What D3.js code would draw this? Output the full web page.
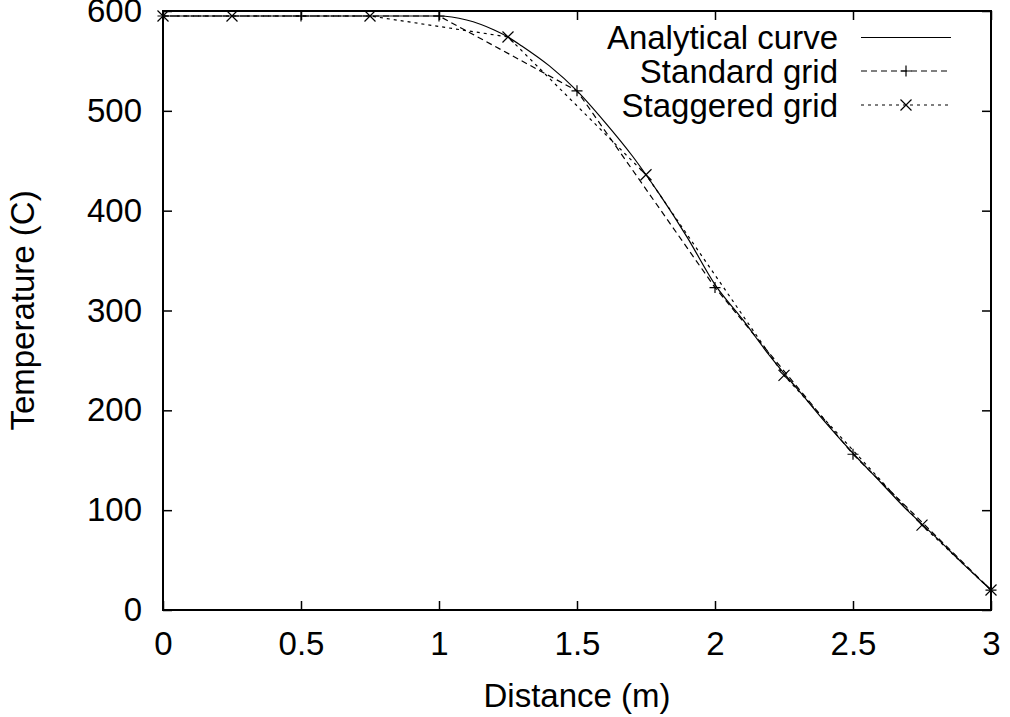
<!DOCTYPE html>
<html>
<head>
<meta charset="utf-8">
<script src="https://cdn.jsdelivr.net/npm/d3@7"></script>
<style>
  html, body { margin: 0; padding: 0; background: #fff; }
  svg { display: block; }
  text { font-family: "Liberation Sans", Arial, Helvetica, sans-serif; fill: #000; }
</style>
</head>
<body>
<svg id="chart" width="1010" height="717"></svg>
<script>
// ---- data ----
const analyticalX = [0, 0.5, 1.0, 1.1, 1.2, 1.25, 1.3, 1.4, 1.5, 1.6, 1.7, 1.75, 1.8, 1.9, 2.0, 2.1, 2.2, 2.25, 2.3, 2.4, 2.5, 2.6, 2.7, 2.75, 2.8, 2.9, 3.0];
const analyticalT = [595, 595, 595, 591, 581, 574, 565, 545, 520, 489, 455, 436, 416, 373, 326, 291, 254, 237, 221, 188, 157, 128, 99, 86, 73, 46, 20];

const standardX = [0, 0.5, 1.0, 1.5, 2.0, 2.5, 3.0];
const standardT = [595, 595, 595, 520, 323, 156, 20];

const staggeredX = [0, 0.25, 0.75, 1.25, 1.75, 2.25, 2.75, 3.0];
const staggeredT = [595, 595, 595, 574, 436, 235, 85, 20];

const xTicks = [0, 0.5, 1, 1.5, 2, 2.5, 3];
const xTickLabels = ["0", "0.5", "1", "1.5", "2", "2.5", "3"];
const yTicks = [0, 100, 200, 300, 400, 500, 600];

const seriesNames = ["Analytical curve", "Standard grid", "Staggered grid"];

// ---- layout ----
const svg = d3.select("#chart");
const pL = 163, pR = 991, pT = 11, pB = 610;
const FS = 33;

const x = d3.scaleLinear().domain([0, 3]).range([pL, pR]);
const y = d3.scaleLinear().domain([0, 600]).range([pB, pT]);

const tickLen = 9;

// axes (inside ticks on all four sides)
const gB = svg.append("g").attr("transform", `translate(0,${pB})`)
  .call(d3.axisBottom(x).tickValues(xTicks).tickFormat((d, i) => xTickLabels[i]).tickSize(-tickLen).tickPadding(22));
const gT = svg.append("g").attr("transform", `translate(0,${pT})`)
  .call(d3.axisTop(x).tickValues(xTicks).tickFormat("").tickSize(-tickLen));
const gL = svg.append("g").attr("transform", `translate(${pL},0)`)
  .call(d3.axisLeft(y).tickValues(yTicks).tickFormat(d3.format("d")).tickSize(-tickLen).tickPadding(21));
const gR = svg.append("g").attr("transform", `translate(${pR},0)`)
  .call(d3.axisRight(y).tickValues(yTicks).tickFormat("").tickSize(-tickLen));

[gB, gT, gL, gR].forEach(g => {
  g.select(".domain").remove();
  g.selectAll(".tick line").attr("stroke", "#000").attr("stroke-width", 1.5);
  g.selectAll("text").attr("font-size", FS).attr("font-family", "Liberation Sans, Arial, sans-serif").attr("fill", "#000");
});

// frame
svg.append("rect")
  .attr("x", pL).attr("y", pT)
  .attr("width", pR - pL).attr("height", pB - pT)
  .attr("fill", "none").attr("stroke", "#000").attr("stroke-width", 2);

// axis titles
svg.append("text")
  .attr("x", (pL + pR) / 2).attr("y", 707)
  .attr("text-anchor", "middle").attr("font-size", FS)
  .text("Distance (m)");
svg.append("text")
  .attr("transform", `translate(34,${(pT + pB) / 2}) rotate(-90)`)
  .attr("text-anchor", "middle").attr("font-size", FS)
  .text("Temperature (C)");

// lines
const lineGen = (xs, ys, curve) => d3.line()
  .x((d, i) => x(xs[i])).y((d, i) => y(ys[i])).curve(curve)(ys);

svg.append("path")
  .attr("d", lineGen(analyticalX, analyticalT, d3.curveMonotoneX))
  .attr("fill", "none").attr("stroke", "#000").attr("stroke-width", 1.2);

svg.append("path")
  .attr("d", lineGen(standardX, standardT, d3.curveLinear))
  .attr("fill", "none").attr("stroke", "#000").attr("stroke-width", 1.2)
  .attr("stroke-dasharray", "6,4");

svg.append("path")
  .attr("d", lineGen(staggeredX, staggeredT, d3.curveLinear))
  .attr("fill", "none").attr("stroke", "#000").attr("stroke-width", 1.2)
  .attr("stroke-dasharray", "3,4");

// markers
const M = 5.5;
function plus(g, cx, cy) {
  g.append("path").attr("d", `M${cx - M},${cy}H${cx + M}M${cx},${cy - M}V${cy + M}`)
    .attr("stroke", "#000").attr("stroke-width", 1.2).attr("fill", "none");
}
function cross(g, cx, cy) {
  g.append("path").attr("d", `M${cx - M},${cy - M}L${cx + M},${cy + M}M${cx - M},${cy + M}L${cx + M},${cy - M}`)
    .attr("stroke", "#000").attr("stroke-width", 1.2).attr("fill", "none");
}
const gm = svg.append("g");
standardX.forEach((v, i) => plus(gm, x(v), y(standardT[i])));
staggeredX.forEach((v, i) => cross(gm, x(v), y(staggeredT[i])));

// legend
const legTextX = 838, legL = 861, legR = 951;
const legY = [37.5, 71, 105];
const dashes = [null, "6,4", "3,4"];
seriesNames.forEach((name, i) => {
  svg.append("text").attr("x", legTextX).attr("y", legY[i] + 11.5)
    .attr("text-anchor", "end").attr("font-size", FS).text(name);
  const ln = svg.append("line").attr("x1", legL).attr("x2", legR)
    .attr("y1", legY[i]).attr("y2", legY[i])
    .attr("stroke", "#000").attr("stroke-width", 1.2);
  if (dashes[i]) ln.attr("stroke-dasharray", dashes[i]);
  if (i === 1) plus(svg, (legL + legR) / 2, legY[i]);
  if (i === 2) cross(svg, (legL + legR) / 2, legY[i]);
});
</script>
</body>
</html>
